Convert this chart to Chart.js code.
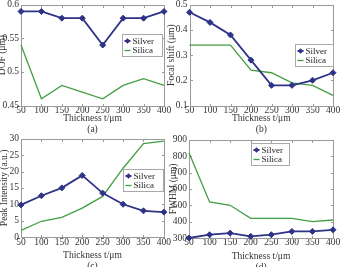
<!DOCTYPE html>
<html>
<head>
<meta charset="utf-8">
<script src="https://cdn.jsdelivr.net/npm/chart.js@4.4.1/dist/chart.umd.min.js"></script>
<style>
html, body { margin: 0; padding: 0; background: #fff; overflow: hidden; width: 341px; height: 267px; }
canvas { position: absolute; }
</style>
</head>
<body>
<canvas id="chartA" width="175" height="137" style="left:-3px;top:-2px"></canvas>
<canvas id="chartB" width="175" height="137" style="left:166px;top:-2px"></canvas>
<canvas id="chartC" width="173" height="140" style="left:-1px;top:132px"></canvas>
<canvas id="chartD" width="173" height="140" style="left:168px;top:133px"></canvas>
<script>
// thickness of the layer, um
const thickness = [50, 100, 150, 200, 250, 300, 350, 400];

// (a) DOF
const dofSilver = [0.59, 0.59, 0.58, 0.58, 0.54, 0.58, 0.58, 0.59];
const dofSilica = [0.54, 0.46, 0.48, 0.47, 0.46, 0.48, 0.49, 0.48];

// (b) focal shift
const focalSilver = [0.47, 0.43, 0.38, 0.28, 0.18, 0.18, 0.20, 0.23];
const focalSilica = [0.34, 0.34, 0.34, 0.24, 0.23, 0.19, 0.18, 0.14];

// (c) peak intensity
const peakSilver = [9.8, 12.6, 15.0, 18.8, 13.4, 10.0, 8.0, 7.6];
const peakSilica = [2.0, 4.8, 6.0, 8.8, 12.4, 21.0, 28.5, 29.3];

// (d) FWHM
const fwhmSilver = [300, 320, 330, 310, 320, 340, 340, 350];
const fwhmSilica = [820, 520, 500, 420, 420, 420, 400, 410];

const SILVER = '#2e3388';
const SILICA = '#429e42';
const FONT = '"Liberation Serif", "DejaVu Serif", serif';
const TXT = '#333';

// grey box round the plot with small inward ticks
const frame = {
    id: 'frame',
    beforeDatasetsDraw(chart)
    {
        const {ctx, chartArea: a, scales: {x, y}} = chart;
        const l = Math.round(a.left) + 0.5, r = Math.round(a.right) + 0.5;
        const t = Math.round(a.top) + 0.5, b = Math.round(a.bottom) + 0.5;
        ctx.save();
        ctx.strokeStyle = '#9a9a9a';
        ctx.lineWidth = 1;
        ctx.strokeRect(l, t, r - l, b - t);
        ctx.beginPath();
        x.ticks.forEach((_, i) => {
            const px = Math.round(x.getPixelForTick(i)) + 0.5;
            ctx.moveTo(px, b); ctx.lineTo(px, b - 2.5);
            ctx.moveTo(px, t); ctx.lineTo(px, t + 2.5);
        });
        y.ticks.forEach((_, i) => {
            const py = Math.round(y.getPixelForTick(i)) + 0.5;
            ctx.moveTo(l, py); ctx.lineTo(l + 2.5, py);
            ctx.moveTo(r, py); ctx.lineTo(r - 2.5, py);
        });
        ctx.stroke();
        ctx.restore();
    }
};

// boxed legend drawn inside the plot area
const boxLegend = {
    id: 'boxLegend',
    afterDraw(chart, args, opts)
    {
        const {ctx, chartArea: a} = chart;
        const x0 = Math.round(a.left + opts.dx) + 0.5;
        const y0 = Math.round(a.top + opts.dy) + 0.5;
        const w = opts.w, h = 22;
        ctx.save();
        ctx.fillStyle = '#fff';
        ctx.fillRect(x0, y0, w, h);
        ctx.strokeStyle = '#a8a8a8';
        ctx.lineWidth = 1;
        ctx.strokeRect(x0, y0, w, h);
        chart.data.datasets.forEach((ds, i) => {
            const cy = y0 + 6.5 + i * 9.5;
            ctx.strokeStyle = ds.borderColor;
            ctx.lineWidth = ds.borderWidth;
            ctx.beginPath();
            ctx.moveTo(x0 + 2, cy);
            ctx.lineTo(x0 + 8, cy);
            ctx.stroke();
            if (ds.pointRadius > 0)
            {
                ctx.fillStyle = ds.borderColor;
                ctx.beginPath();
                ctx.moveTo(x0 + 5, cy - 2.8);
                ctx.lineTo(x0 + 7.8, cy);
                ctx.lineTo(x0 + 5, cy + 2.8);
                ctx.lineTo(x0 + 2.2, cy);
                ctx.closePath();
                ctx.fill();
            }
            ctx.fillStyle = '#222';
            ctx.font = '9px ' + FONT;
            ctx.textBaseline = 'middle';
            ctx.textAlign = 'left';
            ctx.fillText(ds.label, x0 + 10, cy + 0.5);
        });
        ctx.restore();
    }
};

function makePanel(id, p)
{
    return new Chart(document.getElementById(id), {
        type: 'line',
        data: {
            labels: thickness,
            datasets: [
                {
                    label: 'Silver',
                    data: p.silver,
                    borderColor: SILVER,
                    backgroundColor: SILVER,
                    borderWidth: 1.8,
                    pointStyle: 'rectRot',
                    pointRadius: 3,
                    pointBorderWidth: 1,
                    clip: false
                },
                {
                    label: 'Silica',
                    data: p.silica,
                    borderColor: SILICA,
                    backgroundColor: SILICA,
                    borderWidth: 1.3,
                    pointRadius: 0,
                    clip: false
                }
            ]
        },
        options: {
            responsive: false,
            animation: false,
            layout: { padding: { top: 6, right: 8, bottom: 0, left: 0 } },
            plugins: {
                legend: { display: false },
                tooltip: { enabled: false },
                boxLegend: p.legend
            },
            scales: {
                x: {
                    grid: { display: false, drawTicks: false },
                    border: { display: false },
                    ticks: {
                        autoSkip: false, maxRotation: 0, padding: p.xpad,
                        color: TXT, font: { family: FONT, size: 9.5, lineHeight: 1 }
                    },
                    title: {
                        display: true, text: ['Thickness t/\u03bcm', p.caption],
                        color: TXT, padding: 0,
                        font: { family: FONT, size: 9.5, lineHeight: 1.15 }
                    },
                    afterFit: s => { s.height = p.xh; }
                },
                y: {
                    min: p.min, max: p.max,
                    grid: { display: false, drawTicks: false },
                    border: { display: false },
                    ticks: {
                        stepSize: p.step, padding: 2,
                        callback: v => String(parseFloat(v.toFixed(2))),
                        color: TXT, font: { family: FONT, size: 9.5, lineHeight: 1 }
                    },
                    title: {
                        display: true, text: p.ytitle,
                        color: TXT, padding: { top: 0, bottom: 0 },
                        font: { family: FONT, size: 9.5, lineHeight: 1.1 }
                    },
                    afterFit: s => { s.width = p.yw; }
                }
            }
        },
        plugins: [frame, boxLegend]
    });
}

makePanel('chartA', {
    silver: dofSilver, silica: dofSilica,
    min: 0.45, max: 0.6, step: 0.05,
    ytitle: 'DOF (\u03bcm)', caption: '(a)',
    yw: 24, xh: 29.5, xpad: 0,
    legend: { dx: 101, dy: 29, w: 40 }
});

makePanel('chartB', {
    silver: focalSilver, silica: focalSilica,
    min: 0.1, max: 0.5, step: 0.1,
    ytitle: 'Focal shift (\u03bcm)', caption: '(b)',
    yw: 23.5, xh: 29.5, xpad: 0,
    legend: { dx: 105, dy: 39, w: 38 }
});

makePanel('chartC', {
    silver: peakSilver, silica: peakSilica,
    min: 0, max: 30, step: 5,
    ytitle: 'Peak Intensity (a.u.)', caption: '(c)',
    yw: 22, xh: 35, xpad: 1,
    legend: { dx: 102, dy: 30, w: 40 }
});

makePanel('chartD', {
    silver: fwhmSilver, silica: fwhmSilica,
    min: 300, max: 900, step: 100,
    ytitle: 'FWHM (\u03bcm)', caption: '(d)',
    yw: 21, xh: 35, xpad: 0,
    legend: { dx: 62, dy: 3, w: 38 }
});
</script>
</body>
</html>
